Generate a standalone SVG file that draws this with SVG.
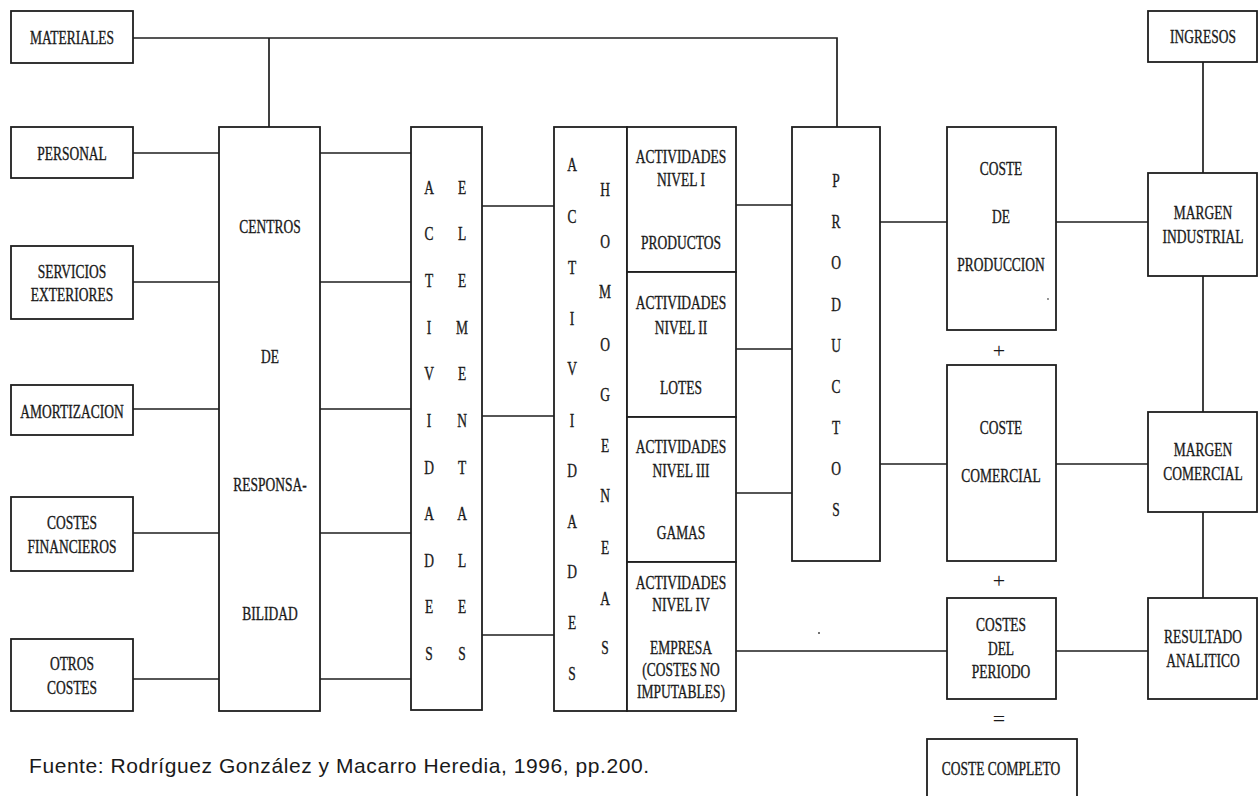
<svg xmlns="http://www.w3.org/2000/svg" width="1260" height="796" viewBox="0 0 1260 796">
  <style>
    .bg { fill: #ffffff; }
    .box { fill: #ffffff; stroke: #1e1e1e; stroke-width: 1.8; }
    .ln { fill: none; stroke: #1e1e1e; stroke-width: 1.7; }
    .t { font-family: "Liberation Serif", "Times New Roman", serif; font-size: 19px; fill: #1a1a1a; stroke: #1a1a1a; stroke-width: 0.35; text-anchor: middle; }
    .op { font-family: "Liberation Serif", "Times New Roman", serif; font-size: 22px; fill: #1a1a1a; text-anchor: middle; }
    .src { font-family: "Liberation Sans", Arial, sans-serif; font-size: 21px; fill: #1a1a1a; }
  </style>

  <rect class="bg" x="0" y="0" width="1260" height="796"/>

  <!-- connectors -->
  <g id="connectors">
    <path class="ln" d="M133,38 H837 V127"/>
    <path class="ln" d="M269,38 V127"/>
    <!-- cost elements into centres -->
    <path class="ln" d="M133,153 H219"/>
    <path class="ln" d="M133,282 H219"/>
    <path class="ln" d="M133,409 H219"/>
    <path class="ln" d="M133,533 H219"/>
    <path class="ln" d="M133,679 H219"/>
    <!-- centres into elementary activities -->
    <path class="ln" d="M320,153 H411"/>
    <path class="ln" d="M320,282 H411"/>
    <path class="ln" d="M320,409 H411"/>
    <path class="ln" d="M320,533 H411"/>
    <path class="ln" d="M320,679 H411"/>
    <!-- elementary into homogeneous activities -->
    <path class="ln" d="M482,206 H554"/>
    <path class="ln" d="M482,416 H554"/>
    <path class="ln" d="M482,635 H554"/>
    <!-- activity levels into products -->
    <path class="ln" d="M736,205 H792"/>
    <path class="ln" d="M736,349 H792"/>
    <path class="ln" d="M736,493 H792"/>
    <path class="ln" d="M736,651 H947"/>
    <!-- products into costs -->
    <path class="ln" d="M880,222 H947"/>
    <path class="ln" d="M880,464 H947"/>
    <!-- costs into margins -->
    <path class="ln" d="M1056,222 H1148"/>
    <path class="ln" d="M1056,464 H1148"/>
    <path class="ln" d="M1056,651 H1148"/>
    <!-- margin chain -->
    <path class="ln" d="M1203,62 V173"/>
    <path class="ln" d="M1203,276 V412"/>
    <path class="ln" d="M1203,512 V598"/>
  </g>

  <!-- cost elements -->
  <g id="materiales">
    <rect class="box" x="11" y="11" width="122" height="52"/>
    <text class="t" transform="translate(72,44) scale(0.71,1)">MATERIALES</text>
  </g>
  <g id="personal">
    <rect class="box" x="11" y="127" width="122" height="51"/>
    <text class="t" transform="translate(72,160) scale(0.71,1)">PERSONAL</text>
  </g>
  <g id="servicios-exteriores">
    <rect class="box" x="11" y="246" width="122" height="73"/>
    <text class="t" transform="translate(72,278) scale(0.71,1)">SERVICIOS</text>
    <text class="t" transform="translate(72,301) scale(0.71,1)">EXTERIORES</text>
  </g>
  <g id="amortizacion">
    <rect class="box" x="11" y="385" width="122" height="50"/>
    <text class="t" transform="translate(72,418) scale(0.71,1)">AMORTIZACION</text>
  </g>
  <g id="costes-financieros">
    <rect class="box" x="11" y="497" width="122" height="74"/>
    <text class="t" transform="translate(72,529) scale(0.71,1)">COSTES</text>
    <text class="t" transform="translate(72,553) scale(0.71,1)">FINANCIEROS</text>
  </g>
  <g id="otros-costes">
    <rect class="box" x="11" y="639" width="122" height="72"/>
    <text class="t" transform="translate(72,670) scale(0.71,1)">OTROS</text>
    <text class="t" transform="translate(72,694) scale(0.71,1)">COSTES</text>
  </g>

  <!-- responsibility centres -->
  <g id="centros">
    <rect class="box" x="219" y="127" width="101" height="584"/>
    <text class="t" transform="translate(270,233) scale(0.71,1)">CENTROS</text>
    <text class="t" transform="translate(270,363) scale(0.71,1)">DE</text>
    <text class="t" transform="translate(270,491) scale(0.71,1)">RESPONSA-</text>
    <text class="t" transform="translate(270,620) scale(0.71,1)">BILIDAD</text>
  </g>

  <!-- elementary activities (vertical lettering) -->
  <g id="actividades-elementales">
    <rect class="box" x="411" y="127" width="71" height="583"/>
    <text class="t" transform="translate(429,194) scale(0.71,1)">A</text>
    <text class="t" transform="translate(429,240) scale(0.71,1)">C</text>
    <text class="t" transform="translate(429,287) scale(0.71,1)">T</text>
    <text class="t" transform="translate(429,334) scale(0.71,1)">I</text>
    <text class="t" transform="translate(429,380) scale(0.71,1)">V</text>
    <text class="t" transform="translate(429,427) scale(0.71,1)">I</text>
    <text class="t" transform="translate(429,474) scale(0.71,1)">D</text>
    <text class="t" transform="translate(429,520) scale(0.71,1)">A</text>
    <text class="t" transform="translate(429,567) scale(0.71,1)">D</text>
    <text class="t" transform="translate(429,613) scale(0.71,1)">E</text>
    <text class="t" transform="translate(429,660) scale(0.71,1)">S</text>
    <text class="t" transform="translate(462,194) scale(0.71,1)">E</text>
    <text class="t" transform="translate(462,240) scale(0.71,1)">L</text>
    <text class="t" transform="translate(462,287) scale(0.71,1)">E</text>
    <text class="t" transform="translate(462,334) scale(0.71,1)">M</text>
    <text class="t" transform="translate(462,380) scale(0.71,1)">E</text>
    <text class="t" transform="translate(462,427) scale(0.71,1)">N</text>
    <text class="t" transform="translate(462,474) scale(0.71,1)">T</text>
    <text class="t" transform="translate(462,520) scale(0.71,1)">A</text>
    <text class="t" transform="translate(462,567) scale(0.71,1)">L</text>
    <text class="t" transform="translate(462,613) scale(0.71,1)">E</text>
    <text class="t" transform="translate(462,660) scale(0.71,1)">S</text>
  </g>

  <!-- homogeneous activities (vertical lettering) -->
  <g id="actividades-homogeneas">
    <rect class="box" x="554" y="127" width="73" height="584"/>
    <text class="t" transform="translate(572,171) scale(0.71,1)">A</text>
    <text class="t" transform="translate(572,223) scale(0.71,1)">C</text>
    <text class="t" transform="translate(572,274) scale(0.71,1)">T</text>
    <text class="t" transform="translate(572,325) scale(0.71,1)">I</text>
    <text class="t" transform="translate(572,375) scale(0.71,1)">V</text>
    <text class="t" transform="translate(572,427) scale(0.71,1)">I</text>
    <text class="t" transform="translate(572,477) scale(0.71,1)">D</text>
    <text class="t" transform="translate(572,528) scale(0.71,1)">A</text>
    <text class="t" transform="translate(572,578) scale(0.71,1)">D</text>
    <text class="t" transform="translate(572,629) scale(0.71,1)">E</text>
    <text class="t" transform="translate(572,680) scale(0.71,1)">S</text>
    <text class="t" transform="translate(605,196) scale(0.71,1)">H</text>
    <text class="t" transform="translate(605,248) scale(0.71,1)">O</text>
    <text class="t" transform="translate(605,298) scale(0.71,1)">M</text>
    <text class="t" transform="translate(605,351) scale(0.71,1)">O</text>
    <text class="t" transform="translate(605,401) scale(0.71,1)">G</text>
    <text class="t" transform="translate(605,452) scale(0.71,1)">E</text>
    <text class="t" transform="translate(605,502) scale(0.71,1)">N</text>
    <text class="t" transform="translate(605,554) scale(0.71,1)">E</text>
    <text class="t" transform="translate(605,605) scale(0.71,1)">A</text>
    <text class="t" transform="translate(605,654) scale(0.71,1)">S</text>
  </g>

  <!-- activity levels -->
  <g id="nivel-1">
    <rect class="box" x="627" y="127" width="109" height="145"/>
    <text class="t" transform="translate(681,163) scale(0.71,1)">ACTIVIDADES</text>
    <text class="t" transform="translate(681,186) scale(0.71,1)">NIVEL I</text>
    <text class="t" transform="translate(681,249) scale(0.71,1)">PRODUCTOS</text>
  </g>
  <g id="nivel-2">
    <rect class="box" x="627" y="272" width="109" height="145"/>
    <text class="t" transform="translate(681,309) scale(0.71,1)">ACTIVIDADES</text>
    <text class="t" transform="translate(681,334) scale(0.71,1)">NIVEL II</text>
    <text class="t" transform="translate(681,394) scale(0.71,1)">LOTES</text>
  </g>
  <g id="nivel-3">
    <rect class="box" x="627" y="417" width="109" height="145"/>
    <text class="t" transform="translate(681,453) scale(0.71,1)">ACTIVIDADES</text>
    <text class="t" transform="translate(681,477) scale(0.71,1)">NIVEL III</text>
    <text class="t" transform="translate(681,539) scale(0.71,1)">GAMAS</text>
  </g>
  <g id="nivel-4">
    <rect class="box" x="627" y="562" width="109" height="149"/>
    <text class="t" transform="translate(681,589) scale(0.71,1)">ACTIVIDADES</text>
    <text class="t" transform="translate(681,611) scale(0.71,1)">NIVEL IV</text>
    <text class="t" transform="translate(681,654) scale(0.71,1)">EMPRESA</text>
    <text class="t" transform="translate(681,676) scale(0.71,1)">(COSTES NO</text>
    <text class="t" transform="translate(681,698) scale(0.71,1)">IMPUTABLES)</text>
  </g>

  <!-- products -->
  <g id="productos">
    <rect class="box" x="792" y="127" width="88" height="434"/>
    <text class="t" transform="translate(836,187) scale(0.71,1)">P</text>
    <text class="t" transform="translate(836,228) scale(0.71,1)">R</text>
    <text class="t" transform="translate(836,269) scale(0.71,1)">O</text>
    <text class="t" transform="translate(836,311) scale(0.71,1)">D</text>
    <text class="t" transform="translate(836,352) scale(0.71,1)">U</text>
    <text class="t" transform="translate(836,393) scale(0.71,1)">C</text>
    <text class="t" transform="translate(836,434) scale(0.71,1)">T</text>
    <text class="t" transform="translate(836,475) scale(0.71,1)">O</text>
    <text class="t" transform="translate(836,516) scale(0.71,1)">S</text>
  </g>

  <!-- cost build-up -->
  <g id="coste-produccion">
    <rect class="box" x="947" y="127" width="109" height="203"/>
    <text class="t" transform="translate(1001,175) scale(0.71,1)">COSTE</text>
    <text class="t" transform="translate(1001,223) scale(0.71,1)">DE</text>
    <text class="t" transform="translate(1001,271) scale(0.71,1)">PRODUCCION</text>
  </g>
  <g id="suma-1">
    <text class="op" x="999" y="358">+</text>
  </g>
  <g id="coste-comercial">
    <rect class="box" x="947" y="365" width="109" height="196"/>
    <text class="t" transform="translate(1001,434) scale(0.71,1)">COSTE</text>
    <text class="t" transform="translate(1001,482) scale(0.71,1)">COMERCIAL</text>
  </g>
  <g id="suma-2">
    <text class="op" x="999" y="588">+</text>
  </g>
  <g id="costes-periodo">
    <rect class="box" x="947" y="598" width="109" height="101"/>
    <text class="t" transform="translate(1001,631) scale(0.71,1)">COSTES</text>
    <text class="t" transform="translate(1001,655) scale(0.71,1)">DEL</text>
    <text class="t" transform="translate(1001,678) scale(0.71,1)">PERIODO</text>
  </g>
  <g id="igual">
    <text class="op" x="999" y="726">=</text>
  </g>
  <g id="coste-completo">
    <rect class="box" x="927" y="739" width="150" height="70"/>
    <text class="t" transform="translate(1001,775) scale(0.71,1)">COSTE COMPLETO</text>
  </g>

  <!-- margins and result -->
  <g id="ingresos">
    <rect class="box" x="1148" y="11" width="109" height="51"/>
    <text class="t" transform="translate(1203,43) scale(0.71,1)">INGRESOS</text>
  </g>
  <g id="margen-industrial">
    <rect class="box" x="1148" y="173" width="109" height="103"/>
    <text class="t" transform="translate(1203,219) scale(0.71,1)">MARGEN</text>
    <text class="t" transform="translate(1203,243) scale(0.71,1)">INDUSTRIAL</text>
  </g>
  <g id="margen-comercial">
    <rect class="box" x="1148" y="412" width="109" height="100"/>
    <text class="t" transform="translate(1203,456) scale(0.71,1)">MARGEN</text>
    <text class="t" transform="translate(1203,480) scale(0.71,1)">COMERCIAL</text>
  </g>
  <g id="resultado-analitico">
    <rect class="box" x="1148" y="598" width="109" height="101"/>
    <text class="t" transform="translate(1203,643) scale(0.71,1)">RESULTADO</text>
    <text class="t" transform="translate(1203,667) scale(0.71,1)">ANALITICO</text>
  </g>

  <!-- stray print specks -->
  <circle cx="819" cy="633" r="1" fill="#444"/>
  <circle cx="1048" cy="299" r="0.9" fill="#666"/>

  <!-- source note -->
  <text class="src" x="29" y="773" textLength="620" lengthAdjust="spacing">Fuente: Rodríguez González y Macarro Heredia, 1996, pp.200.</text>
</svg>
